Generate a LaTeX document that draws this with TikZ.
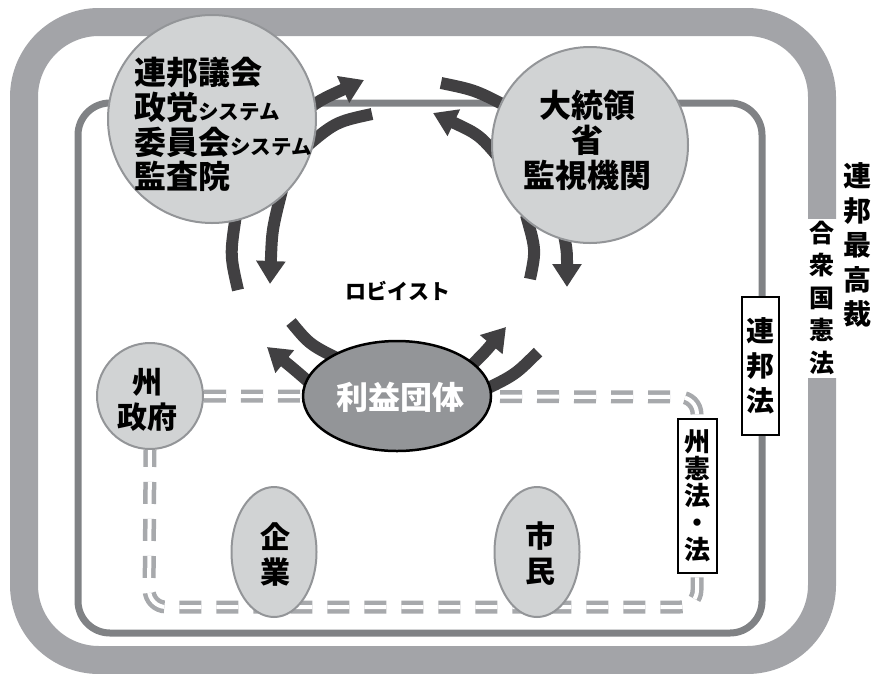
\documentclass[tikz,border=0pt]{standalone}
\usepackage{fontspec}
\setmainfont{Noto Sans CJK JP}
\usetikzlibrary{arrows.meta,shapes.geometric}
\definecolor{bandc}{RGB}{163,164,168}
\definecolor{innerc}{RGB}{128,130,133}
\definecolor{lightfill}{RGB}{209,211,212}
\definecolor{nodeedge}{RGB}{147,149,152}
\definecolor{midfill}{RGB}{147,149,152}
\definecolor{arrowc}{RGB}{65,64,66}
\definecolor{dashc}{RGB}{167,169,172}
\newcommand{\bigjp}{\bfseries\fontsize{32pt}{35pt}\selectfont}
\newcommand{\smalljp}{\bfseries\fontsize{20.5pt}{22pt}\selectfont}
\tikzset{
  bubble/.style={circle, draw=nodeedge, line width=2pt, fill=lightfill, inner sep=0pt},
  oval/.style={ellipse, draw=nodeedge, line width=2pt, fill=lightfill, inner sep=0pt},
  arr/.style={draw=arrowc, line width=12pt, -{Triangle[width=28pt,length=23pt]}},
  stripe/.style={draw=arrowc, line width=12pt},
  lawbox/.style={draw=black, line width=1.5pt, fill=white, inner sep=0pt, align=center},
  txt/.style={inner sep=0pt, align=center},
  dbl/.style={draw=dashc, line width=4.5pt, double=white, double distance=4pt,
              dash pattern=on 22pt off 15pt, rounded corners=17pt}
}
\begin{document}
\begin{tikzpicture}[x=1pt,y=-1pt]
\useasboundingbox (0,0) rectangle (877,673);
% outer band (constitution / supreme court)
\draw[bandc, line width=28pt, rounded corners=75pt] (24,22) rectangle (822,660);
\fill[white] (806,219) rectangle (839,378);
\node[txt, font=\bfseries\fontsize{25pt}{32.5pt}\selectfont] (const) at (822,298) {合\\衆\\国\\憲\\法};
\node[txt, font=\bfseries\fontsize{28pt}{34.5pt}\selectfont] (court) at (857,245) {連\\邦\\最\\高\\裁};
% inner frame (federal law)
\draw[innerc, line width=7pt, rounded corners=32pt] (78,103) rectangle (762,633);
\node[lawbox, minimum width=37pt, minimum height=138pt, font=\bfseries\fontsize{28pt}{35pt}\selectfont] (fedlaw) at (760.5,366) {連\\邦\\法};
% state nodes
\node[bubble, minimum size=106pt] (state) at (150,396) {};
\draw[dbl] (state.east) -- (697,397) -- (697,607) -- (149,607) -- (state.south);
\node[lawbox, minimum width=39pt, minimum height=154pt, font=\bfseries\fontsize{26pt}{27pt}\selectfont] (statelaw) at (697.5,496) {州\\憲\\法\\・\\法};
\node[txt, font=\bfseries\fontsize{30pt}{35pt}\selectfont] (statetxt) at (147,400) {州\\政府};
\node[oval, minimum width=85pt, minimum height=130pt] (biz) at (274,552) {};
\node[txt, font=\bfseries\fontsize{30pt}{35pt}\selectfont] (biztxt) at (275,554) {企\\業};
\node[oval, minimum width=85pt, minimum height=130pt] (cit) at (537,552) {};
\node[txt, font=\bfseries\fontsize{30pt}{35pt}\selectfont] (cittxt) at (540,554) {市\\民};
% arrows
\coordinate (a1s) at (300,115); \coordinate (a1e) at (364,80);
\draw[arr] (a1s) .. controls (320,100) .. (a1e);
\coordinate (s1s) at (372,114); \coordinate (s1e) at (300,152);
\draw[stripe] (s1s) .. controls (335,122) .. (s1e);
\coordinate (a2s) at (505,165); \coordinate (a2e) at (433,113);
\draw[arr] (a2s) .. controls (480,135) .. (a2e);
\coordinate (s2s) at (441,83); \coordinate (s2e) at (510,108);
\draw[stripe] (s2s) .. controls (475,90) .. (s2e);
\coordinate (a3s) at (282,190); \coordinate (a3e) at (270,284);
\draw[arr] (a3s) .. controls (272,230) .. (a3e);
\coordinate (s3s) at (238,290); \coordinate (s3e) at (236,215);
\draw[stripe] (s3s) .. controls (230,255) .. (s3e);
\coordinate (a4s) at (562,225); \coordinate (a4e) at (567,287);
\draw[arr] (a4s) .. controls (567,250) .. (a4e);
\coordinate (s4s) at (526,215); \coordinate (s4e) at (530,279);
\draw[stripe] (s4s) .. controls (536,250) .. (s4e);
\coordinate (a5s) at (318,390); \coordinate (a5e) at (267,347);
\draw[arr] (a5s) .. controls (295,370) .. (a5e);
\coordinate (s5s) at (291,322); \coordinate (s5e) at (345,362);
\draw[stripe] (s5s) .. controls (310,345) .. (s5e);
\coordinate (a6s) at (465,372); \coordinate (a6e) at (506,327);
\draw[arr] (a6s) .. controls (485,352) .. (a6e);
\coordinate (s6s) at (538,352); \coordinate (s6e) at (480,392);
\draw[stripe] (s6s) .. controls (515,375) .. (s6e);
% main nodes
\node[bubble, minimum size=208pt] (cong) at (212,119) {};
\node[txt, anchor=west, font=\bigjp] (c1) at (134,72) {連邦議会};
\node[txt, anchor=west, font=\bigjp] (c2) at (134,107) {政党{\smalljp システム}};
\node[txt, anchor=west, font=\bigjp] (c3) at (134,142) {委員会{\smalljp システム}};
\node[txt, anchor=west, font=\bigjp] (c4) at (134,176) {監査院};
\node[bubble, minimum size=196pt] (pres) at (590,145) {};
\node[txt, font=\bigjp] (ptxt) at (587,140) {大統領\\省\\監視機関};
\node[ellipse, draw=black, line width=2.5pt, fill=midfill, minimum width=188pt, minimum height=110pt, inner sep=0pt] (lobby) at (397,396) {};
\node[txt, text=white, font=\bigjp] (lobbytxt) at (400,397) {利益団体};
\node[txt, font=\bfseries\fontsize{21pt}{24pt}\selectfont] (lobbyist) at (398,291) {ロビイスト};
\end{tikzpicture}
\end{document}
